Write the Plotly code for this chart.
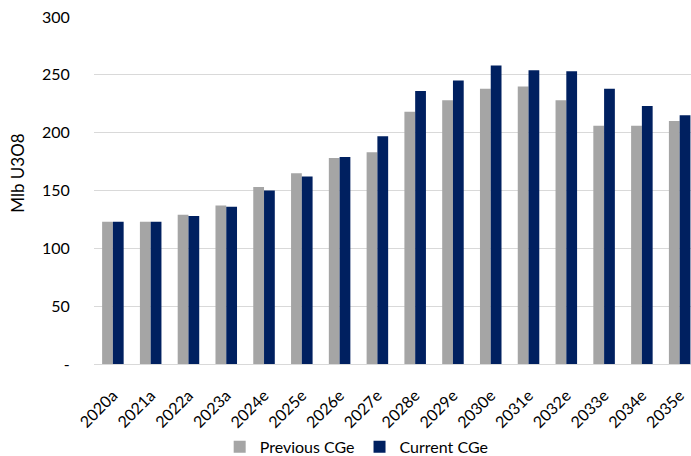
import plotly.graph_objects as go

categories = ["2020a", "2021a", "2022a", "2023a", "2024e", "2025e", "2026e", "2027e",
              "2028e", "2029e", "2030e", "2031e", "2032e", "2033e", "2034e", "2035e"]
previous_cge = [123, 123, 129, 137, 153, 165, 178, 183, 218, 228, 238, 240, 228, 206, 206, 210]
current_cge = [123, 123, 128, 136, 150, 162, 179, 197, 236, 245, 258, 254, 253, 238, 223, 215]

y_tickvals = [0, 50, 100, 150, 200, 250, 300]
y_ticktext = ["-", "50", "100", "150", "200", "250", "300"]

FONT = "Lato"
TXT = "#000000"

fig = go.Figure()
fig.add_trace(go.Bar(x=categories, y=previous_cge, name="Previous CGe",
                     marker=dict(color="#A5A5A5", line=dict(width=0))))
fig.add_trace(go.Bar(x=categories, y=current_cge, name="Current CGe",
                     marker=dict(color="#002060", line=dict(width=0))))

fig.update_layout(
    width=691, height=456,
    margin=dict(l=94, r=0, t=17, b=92, autoexpand=False),
    paper_bgcolor="white", plot_bgcolor="white",
    barmode="group", bargap=0.43, bargroupgap=0,
    font=dict(family=FONT, size=15, color=TXT),
    showlegend=True,
    legend=dict(orientation="h", x=0.44, xanchor="center", y=-0.239, yanchor="middle",
                font=dict(size=16, color=TXT), itemwidth=30, traceorder="normal"),
    xaxis=dict(type="category", range=[-0.5, 15.3], tickangle=-45, automargin=False,
               showgrid=False, showline=True, linecolor="#D9D9D9", linewidth=1,
               ticks="outside", ticklen=15, tickcolor="rgba(0,0,0,0)",
               tickfont=dict(size=16, color=TXT)),
    yaxis=dict(range=[0, 300], tickvals=y_tickvals, ticktext=y_ticktext, automargin=False,
               showgrid=True, gridcolor="#D9D9D9", gridwidth=1,
               zeroline=False, showline=False,
               ticks="outside", ticklen=20, tickcolor="rgba(0,0,0,0)",
               tickfont=dict(size=16, color=TXT)),
    annotations=[dict(text="Mlb U3O8", xref="paper", yref="paper",
                      x=-0.128, y=0.55, xanchor="center", yanchor="middle",
                      textangle=-90, showarrow=False,
                      font=dict(size=17, color=TXT))],
)

fig.write_html("out.html")
